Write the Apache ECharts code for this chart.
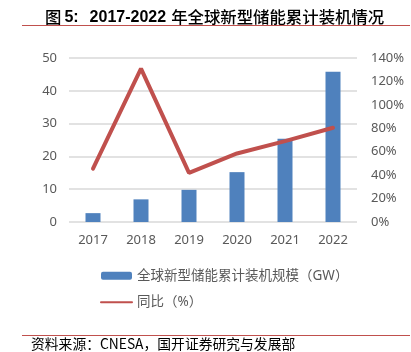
<!DOCTYPE html>
<html>
<head>
<meta charset="utf-8">
<script src="https://cdn.jsdelivr.net/npm/echarts@6/dist/echarts.min.js"></script>
<style>
html,body{margin:0;padding:0;background:#fff;}
#chart-panel{width:411px;height:352px;}
</style>
</head>
<body>
<div id="chart-panel"></div>
<script>
var years = ['2017', '2018', '2019', '2020', '2021', '2022'];
var capacity = [2.7, 6.9, 9.8, 15.2, 25.4, 45.8];   // GW
var growth = [45.5, 131, 42, 58.5, 69, 80.5];        // %
var capName = '全球新型储能累计装机规模（GW）';
var growthName = '同比（%）';

var myChart = echarts.init(document.querySelector('#chart-panel'));
var grey = '#595959';
var font = '"Noto Sans", "Noto Sans CJK SC", sans-serif';
var cjk = '"Noto Sans CJK SC", sans-serif';
var latin = '"Liberation Sans", sans-serif';

option = {
    animation: false,
    title: {
        text: '{c|图}{n5|5:}{n|2017-2022}{c|年全球新型储能累计装机情况}',
        left: 40, top: 4,
        textStyle: {
            rich: {
                c: {fontSize: 16.4, fontWeight: 500, color: '#000', fontFamily: cjk, padding: [0, 3, 0, 0]},
                n5: {fontSize: 16, fontWeight: 'bold', color: '#000', fontFamily: latin, padding: [0, 11, 0, 0]},
                n: {fontSize: 16, fontWeight: 'bold', color: '#000', fontFamily: latin, padding: [0, 5, 0, 0]}
            }
        }
    },
    graphic: [
        {type: 'line', shape: {x1: 22, y1: 25.5, x2: 410, y2: 25.5}, style: {stroke: '#c0504d', lineWidth: 1}},
        {type: 'line', shape: {x1: 22, y1: 335.5, x2: 410, y2: 335.5}, style: {stroke: '#c0504d', lineWidth: 1}},
        // 资料来源
        {type: 'text', x: 31, y: 344, style: {
            text: '资料来源：CNESA，国开证券研究与发展部',
            fontSize: 13.8, fill: '#000', fontFamily: cjk,
            verticalAlign: 'middle'
        }}
    ],
    legend: {
        orient: 'vertical',
        left: 95, top: 264,
        itemWidth: 31, itemHeight: 8, itemGap: 13,
        textStyle: {fontSize: 13.5, color: grey, fontFamily: font},
        data: [capName, {name: growthName, itemStyle: {opacity: 0}}]
    },
    grid: {left: 69, right: 54, top: 58, bottom: 130},
    xAxis: {
        type: 'category',
        data: years,
        axisLine: {show: false},
        axisTick: {show: false},
        axisLabel: {color: grey, fontSize: 13, margin: 12, fontFamily: font}
    },
    yAxis: [{
        type: 'value',
        min: 0, max: 50, interval: 10,
        axisLine: {show: false},
        axisTick: {show: false},
        axisLabel: {color: grey, fontSize: 13, margin: 12, fontFamily: font},
        splitLine: {lineStyle: {color: '#d9d9d9', width: 1.5}}
    }, {
        type: 'value',
        min: 0, max: 140, interval: 20,
        axisLine: {show: false},
        axisTick: {show: false},
        axisLabel: {color: grey, fontSize: 13, margin: 14, formatter: '{value}%', fontFamily: font},
        splitLine: {show: false}
    }],
    series: [{
        name: capName,
        type: 'bar',
        data: capacity,
        barWidth: 15,
        itemStyle: {color: '#4f81bd'}
    }, {
        name: growthName,
        type: 'line',
        yAxisIndex: 1,
        data: growth,
        symbol: 'none',
        lineStyle: {color: '#c0504d', width: 4, cap: 'round'},
        itemStyle: {color: '#c0504d'}
    }]
};

myChart.setOption(option);
</script>
</body>
</html>
